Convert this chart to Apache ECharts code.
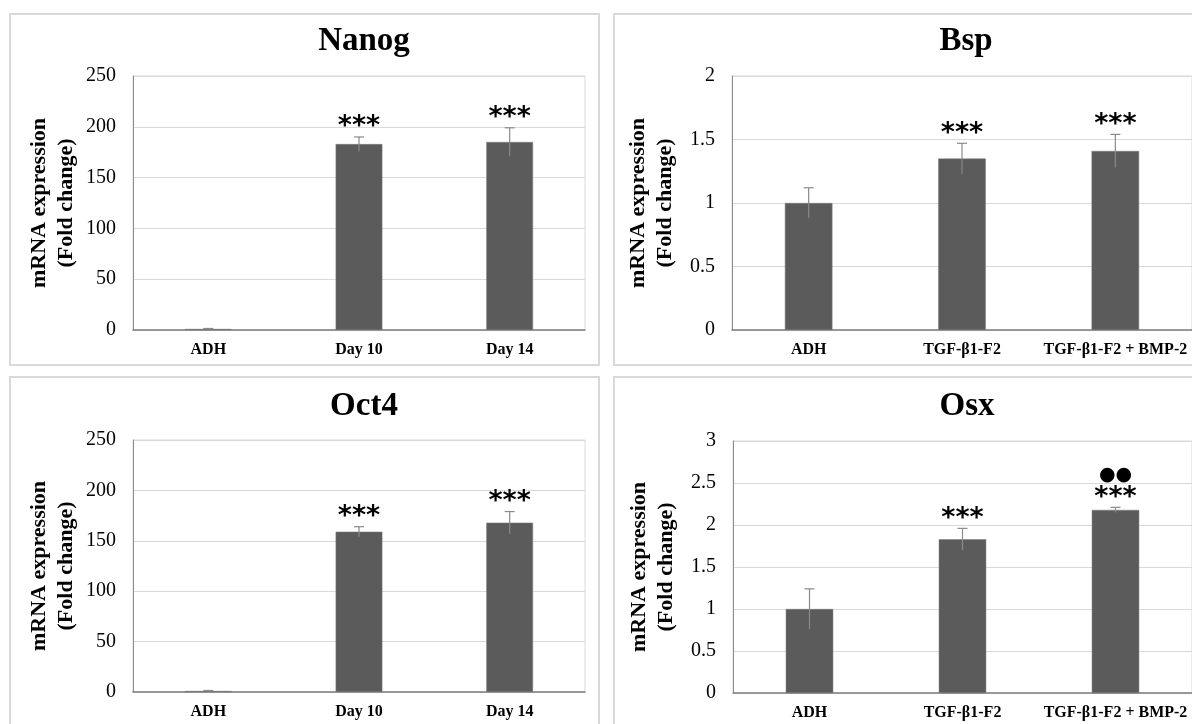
<!DOCTYPE html>
<html>
<head>
<meta charset="utf-8">
<script src="https://cdn.jsdelivr.net/npm/echarts@6/dist/echarts.min.js"></script>
<style>
  html, body { margin: 0; padding: 0; background: #ffffff; }
  #chart { width: 1192px; height: 724px; }
</style>
</head>
<body>
<div id="chart"></div>
<script>
// ---------- data ----------
const stemCategories = ['ADH', 'Day 10', 'Day 14'];
const boneCategories = ['ADH', 'TGF-β1-F2', 'TGF-β1-F2 + BMP-2'];

const nanogMean = [1, 183, 185];
const nanogErr  = [0.5, 7, 14];
const nanogSig  = ['', '***', '***'];
const nanogExtra = ['', '', ''];

const bspMean = [1.0, 1.35, 1.41];
const bspErr  = [0.12, 0.12, 0.13];
const bspSig  = ['', '***', '***'];
const bspExtra = ['', '', ''];

const oct4Mean = [1, 159, 168];
const oct4Err  = [0.5, 5, 11];
const oct4Sig  = ['', '***', '***'];
const oct4Extra = ['', '', ''];

const osxMean = [1.0, 1.83, 2.18];
const osxErr  = [0.24, 0.13, 0.03];
const osxSig  = ['', '***', '***'];
const osxExtra = ['', '', '●●'];

const nanogTicks = { max: 250, interval: 50 };
const bspTicks   = { max: 2, interval: 0.5 };
const oct4Ticks  = { max: 250, interval: 50 };
const osxTicks   = { max: 3, interval: 0.5 };

// ---------- chart ----------
const SERIF = '"Liberation Serif", "Times New Roman", serif';
const panels = [
  { title: 'Nanog', cats: stemCategories, mean: nanogMean, err: nanogErr, sig: nanogSig, extra: nanogExtra, ticks: nanogTicks,
    grid: { left: 133, top: 76, width: 452, height: 254 }, titlePos: { left: 359, top: 20 } },
  { title: 'Bsp', cats: boneCategories, mean: bspMean, err: bspErr, sig: bspSig, extra: bspExtra, ticks: bspTicks,
    grid: { left: 732, top: 76, width: 461, height: 254 }, titlePos: { left: 961, top: 20 } },
  { title: 'Oct4', cats: stemCategories, mean: oct4Mean, err: oct4Err, sig: oct4Sig, extra: oct4Extra, ticks: oct4Ticks,
    grid: { left: 133, top: 440, width: 452, height: 252 }, titlePos: { left: 359, top: 385 } },
  { title: 'Osx', cats: boneCategories, mean: osxMean, err: osxErr, sig: osxSig, extra: osxExtra, ticks: osxTicks,
    grid: { left: 733, top: 441, width: 460, height: 252 }, titlePos: { left: 962, top: 385 } }
];

const option = {
  backgroundColor: '#ffffff',
  animation: false,
  title: panels.map(p => ({
    text: p.title,
    left: p.titlePos.left, top: p.titlePos.top,
    textAlign: 'center',
    textStyle: { fontFamily: SERIF, fontWeight: 'bold', fontSize: 33, color: '#000000' }
  })),
  graphic: [
    { type: 'rect', shape: { x: 10, y: 14, width: 589, height: 351 }, style: { fill: 'none', stroke: '#d9d9d9', lineWidth: 2 }, silent: true, z: -10 },
    { type: 'rect', shape: { x: 614, y: 14, width: 592, height: 351 }, style: { fill: 'none', stroke: '#d9d9d9', lineWidth: 2 }, silent: true, z: -10 },
    { type: 'rect', shape: { x: 10, y: 377, width: 589, height: 360 }, style: { fill: 'none', stroke: '#d9d9d9', lineWidth: 2 }, silent: true, z: -10 },
    { type: 'rect', shape: { x: 614, y: 377, width: 592, height: 360 }, style: { fill: 'none', stroke: '#d9d9d9', lineWidth: 2 }, silent: true, z: -10 }
  ],
  grid: panels.map(p => Object.assign({ show: true, borderColor: '#d9d9d9', borderWidth: 1, backgroundColor: 'transparent' }, p.grid)),
  xAxis: panels.map((p, i) => ({
    type: 'category', gridIndex: i, data: p.cats,
    axisLine: { lineStyle: { color: '#7f7f7f', width: 1.5 } },
    axisTick: { show: false },
    axisLabel: { fontFamily: SERIF, fontWeight: 'bold', fontSize: 16, color: '#000000', margin: 12, interval: 0 }
  })),
  yAxis: panels.map((p, i) => ({
    type: 'value', gridIndex: i, min: 0, max: p.ticks.max, interval: p.ticks.interval,
    name: 'mRNA expression\n(Fold change)',
    nameLocation: 'middle', nameRotate: 90, nameGap: 53,
    nameTextStyle: { fontFamily: SERIF, fontWeight: 'bold', fontSize: 22, color: '#000000', lineHeight: 27 },
    axisLine: { show: true, lineStyle: { color: '#8c8c8c', width: 1 } },
    axisTick: { show: false },
    splitLine: { lineStyle: { color: '#d9d9d9', width: 1 } },
    axisLabel: { fontFamily: SERIF, fontSize: 20, color: '#000000', margin: 17 }
  })),
  series: []
};

panels.forEach((p, i) => {
  option.series.push({
    type: 'bar', xAxisIndex: i, yAxisIndex: i,
    data: p.mean, barWidth: '31%',
    itemStyle: { color: '#5b5b5b', borderColor: '#7a7a7a', borderWidth: 0.5 },
    z: 2
  });
  option.series.push({
    type: 'custom', xAxisIndex: i, yAxisIndex: i,
    data: p.mean.map((m, k) => [k, m, p.err[k]]),
    z: 5,
    renderItem: function (params, api) {
      const idx = params.dataIndex;
      const k = api.value(0), m = api.value(1), e = api.value(2);
      const top = api.coord([k, m + e]);
      const bot = api.coord([k, Math.max(0, m - e)]);
      const children = [
        { type: 'line', shape: { x1: top[0], y1: bot[1], x2: top[0], y2: top[1] },
          style: { stroke: '#8a8a8a', lineWidth: 1.2 } },
        { type: 'line', shape: { x1: top[0] - 5, y1: top[1], x2: top[0] + 5, y2: top[1] },
          style: { stroke: '#8a8a8a', lineWidth: 1.2 } }
      ];
      if (p.sig[idx]) {
        children.push({ type: 'text', x: top[0], y: top[1] + 4,
          style: { text: p.sig[idx], fontFamily: '"DejaVu Sans", sans-serif', fontWeight: 'bold', fontSize: 27,
                   fill: '#000000', align: 'center', verticalAlign: 'bottom' } });
      }
      if (p.extra[idx]) {
        children.push({ type: 'text', x: top[0], y: top[1] - 23,
          style: { text: p.extra[idx], fontFamily: '"DejaVu Sans", sans-serif', fontSize: 19,
                   fill: '#000000', align: 'center', verticalAlign: 'bottom' } });
      }
      return { type: 'group', children: children };
    }
  });
});

const chart = echarts.init(document.getElementById('chart'), null, { renderer: 'canvas' });
chart.setOption(option);
</script>
</body>
</html>
